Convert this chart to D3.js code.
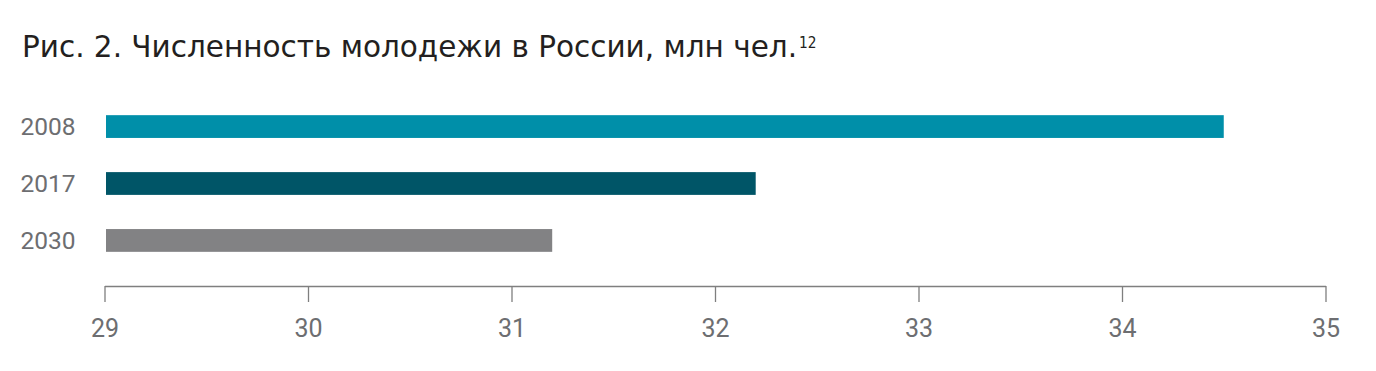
<!DOCTYPE html>
<html><head><meta charset="utf-8">
<script src="https://cdn.jsdelivr.net/npm/d3@7"></script>
<style>
html,body{margin:0;padding:0;background:#fff;}
svg{display:block;}
</style></head>
<body>
<svg id="chart" width="1376" height="371"></svg>
<script>
const titleText = "Рис. 2. Численность молодежи в России, млн чел.";
const titleNote = "12";
const categories = ["2008", "2017", "2030"];
const values = [34.5, 32.2, 31.2];
const barColors = ["#008FA9", "#005567", "#828284"];
const xTicks = [29, 30, 31, 32, 33, 34, 35];

const svg = d3.select("#chart");
const x = d3.scaleLinear().domain([29, 35]).range([104.5, 1325.5]);
const y = d3.scaleBand().domain(categories).range([81, 286]).paddingInner(0.6).paddingOuter(0.6);
const color = d3.scaleOrdinal().domain(categories).range(barColors);

// title
svg.append("text")
  .attr("x", 22).attr("y", 57.3)
  .attr("font-family", "'DejaVu Sans Condensed', 'DejaVu Sans', sans-serif")
  .style("font-stretch", "condensed")
  .attr("font-size", 29.5)
  .attr("fill", "#231f20")
  .attr("textLength", 775)
  .attr("lengthAdjust", "spacingAndGlyphs")
  .text(titleText);
svg.append("text")
  .attr("x", 799).attr("y", 47.7)
  .attr("font-family", "'DejaVu Sans Condensed', 'DejaVu Sans', sans-serif")
  .style("font-stretch", "condensed")
  .attr("font-size", 16.5)
  .attr("fill", "#231f20")
  .attr("textLength", 17.5)
  .attr("lengthAdjust", "spacingAndGlyphs")
  .text(titleNote);

// bars
svg.append("g").selectAll("rect").data(categories).join("rect")
  .attr("x", x(29) + 1.5)
  .attr("y", d => y(d))
  .attr("width", (d, i) => x(values[i]) - x(29) - 1.5)
  .attr("height", y.bandwidth())
  .attr("fill", d => color(d));

// category labels
svg.append("g").selectAll("text").data(categories).join("text")
  .attr("x", 75.5)
  .attr("y", d => y(d) + y.bandwidth() / 2)
  .attr("dy", "0.36em")
  .attr("text-anchor", "end")
  .attr("font-family", "Roboto, sans-serif")
  .attr("font-size", 24.5)
  .attr("fill", "#6d6e71")
  .text(d => d);

// x axis
const axis = d3.axisBottom(x).tickValues(xTicks).tickSize(16).tickSizeOuter(0).tickPadding(17).tickFormat(d3.format("d"));
const ag = svg.append("g").attr("transform", "translate(0,286)").call(axis);
ag.select(".domain").attr("stroke", "#7f7f7f").attr("stroke-width", 1.3);
ag.selectAll(".tick line").attr("stroke", "#7f7f7f").attr("stroke-width", 1.3);
ag.selectAll(".tick text")
  .attr("font-family", "Roboto, sans-serif")
  .attr("font-size", 25)
  .attr("fill", "#6d6e71");
</script>
</body></html>
